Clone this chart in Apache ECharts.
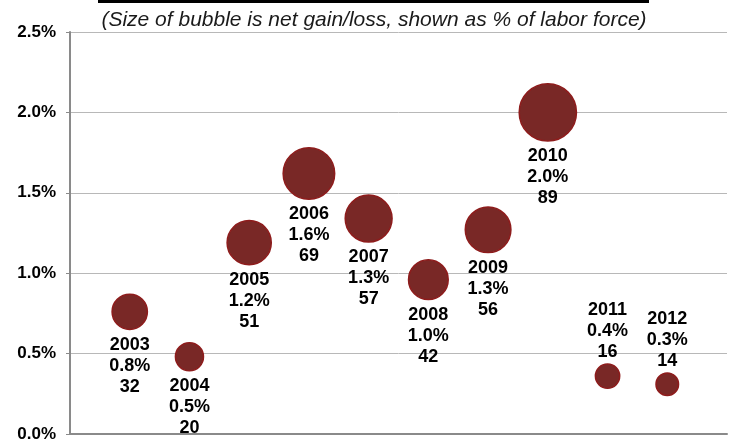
<!DOCTYPE html>
<html>
<head>
<meta charset="utf-8">
<script src="https://cdn.jsdelivr.net/npm/echarts@6/dist/echarts.min.js"></script>
<style>
  html, body { margin: 0; padding: 0; background: #fff; }
  #chart { width: 733px; height: 445px; }
</style>
</head>
<body>
<div id="chart"></div>
<script>
// bubble data (y = net gain/loss as % of labor force, count = thousands)
var years = [2003, 2004, 2005, 2006, 2007, 2008, 2009, 2010, 2011, 2012];
var shares = [0.76, 0.48, 1.19, 1.62, 1.34, 0.96, 1.27, 2.00, 0.36, 0.31];
var pctLabels = ['0.8%', '0.5%', '1.2%', '1.6%', '1.3%', '1.0%', '1.3%', '2.0%', '0.4%', '0.3%'];
var counts = [32, 20, 51, 69, 57, 42, 56, 89, 16, 14];
var labelAbove = [2011, 2012];

var yTicks = [0, 0.5, 1.0, 1.5, 2.0, 2.5];

var points = years.map(function (yr, i) {
  var above = labelAbove.indexOf(yr) >= 0;
  return {
    value: [yr, shares[i]],
    label: {
      position: above ? 'top' : 'bottom',
      distance: above ? 1 : 4,
      formatter: yr + '\n' + pctLabels[i] + '\n' + counts[i]
    }
  };
});

var chart = echarts.init(document.getElementById('chart'));
chart.setOption({
  animation: false,
  grid: { left: 70, right: 6, top: 32, bottom: 11 },
  graphic: [
    { type: 'rect', shape: { x: 98, y: 0, width: 551, height: 3 }, style: { fill: '#000' } },
    {
      type: 'text', x: 374, y: 20,
      style: {
        text: '(Size of bubble is net gain/loss, shown as % of labor force)',
        font: 'italic 21px "Liberation Sans", Arial, sans-serif',
        fill: '#1a1a1a', textAlign: 'center', textVerticalAlign: 'middle'
      }
    }
  ],
  xAxis: {
    type: 'value', min: 2002, max: 2013,
    axisLine: { show: true, lineStyle: { color: '#8a8a8a', width: 2 } },
    axisTick: { show: false },
    axisLabel: { show: false },
    splitLine: { show: false }
  },
  yAxis: {
    type: 'value', min: yTicks[0], max: yTicks[yTicks.length - 1], interval: 0.5,
    axisLine: { show: true, lineStyle: { color: '#8a8a8a', width: 2 } },
    axisTick: { show: true, length: 4, lineStyle: { color: '#8a8a8a', width: 1 } },
    axisLabel: {
      margin: 14, color: '#000', fontSize: 17, fontWeight: 'bold',
      fontFamily: '"Liberation Sans", Arial, sans-serif',
      formatter: function (v) { return v.toFixed(1) + '%'; }
    },
    splitLine: { lineStyle: { color: '#b8b8b8', width: 1 } }
  },
  series: [{
    type: 'scatter',
    data: points,
    symbolSize: function (v) { return 40.5 * Math.sqrt(v[1]); },
    itemStyle: { color: '#792826', borderColor: '#8e1c1c', borderWidth: 1.5, opacity: 1 },
    label: {
      show: true, color: '#000', fontSize: 18, fontWeight: 'bold', lineHeight: 21,
      fontFamily: '"Liberation Sans", Arial, sans-serif', align: 'center'
    },
    z: 3
  }]
});
</script>
</body>
</html>
